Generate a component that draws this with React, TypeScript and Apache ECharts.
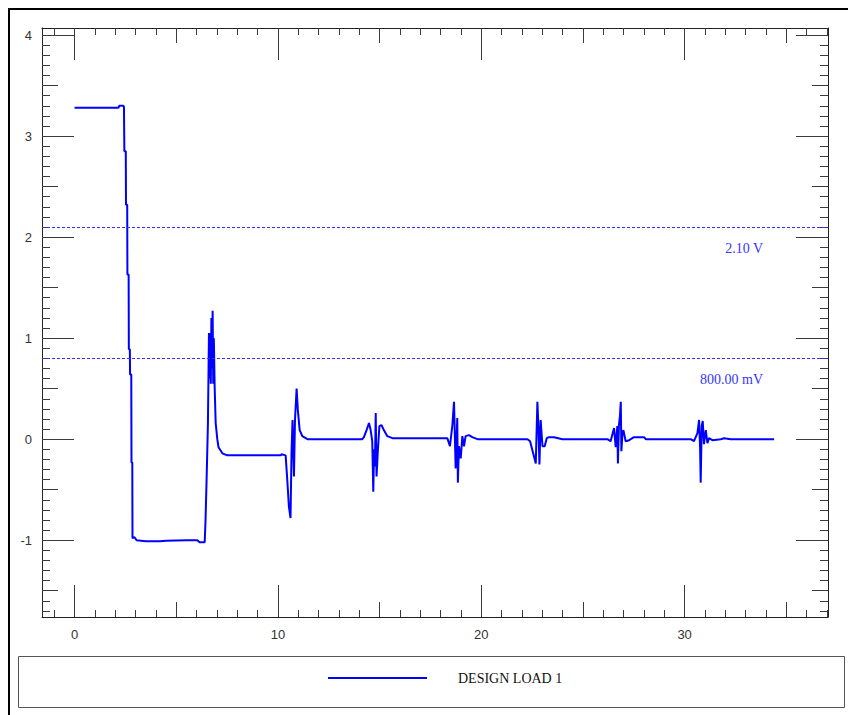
import React, { useEffect, useRef } from "react";
import * as echarts from "echarts";

// Signal trace (time, volts)
const signalX = [
  0, 2.16, 2.2, 2.4, 2.43, 2.45, 2.52, 2.53, 2.59, 2.6, 2.66, 2.67, 2.72, 2.73, 2.79, 2.8, 2.84, 2.85, 2.95, 3.05,
  3.5, 4.2, 4.5, 5.5, 6.04, 6.15, 6.4, 6.44, 6.49, 6.56, 6.61, 6.64, 6.67, 6.7, 6.73, 6.76, 6.79, 6.82, 6.85, 6.89,
  6.94, 7.02, 7.08, 7.27, 7.51, 10.15, 10.18, 10.38, 10.46, 10.54, 10.62, 10.67, 10.72, 10.79, 10.84, 10.92, 10.98,
  11.07, 11.2, 11.45, 14.15, 14.23, 14.36, 14.48, 14.56, 14.64, 14.69, 14.73, 14.77, 14.81, 14.85, 14.92, 14.99,
  15.09, 15.21, 15.38, 15.63, 18.33, 18.46, 18.58, 18.66, 18.74, 18.82, 18.85, 18.9, 18.99, 19.07, 19.15, 19.23,
  19.39, 19.56, 19.81, 22.27, 22.4, 22.59, 22.68, 22.76, 22.81, 22.86, 22.92, 23.01, 23.12, 23.22, 23.33, 23.58,
  23.99, 26.2, 26.36, 26.53, 26.61, 26.69, 26.72, 26.77, 26.82, 26.86, 26.89, 26.94, 26.99, 27.1, 27.27, 27.51,
  28.0, 28.1, 30.3, 30.46, 30.63, 30.71, 30.76, 30.79, 30.84, 30.89, 30.95, 31.04, 31.12, 31.2, 31.37, 31.78,
  31.94, 32.27, 34.4,
];
const signalY = [
  3.28, 3.28, 3.3, 3.3, 3.29, 2.85, 2.85, 2.32, 2.32, 1.63, 1.63, 0.89, 0.89, 0.64, 0.64, -0.23, -0.23, -0.98, -0.97, -1.0,
  -1.01, -1.01, -1.005, -1.0, -1.0, -1.02, -1.02, -0.81, -0.43, 0.16, 1.05, 0.6, 1.05, 0.55, 1.2, 0.7, 1.27, 0.55, 1.0, 0.52,
  0.16, 0.0, -0.08, -0.14, -0.16, -0.16, -0.15, -0.16, -0.4, -0.665, -0.78, -0.13, 0.19, -0.37, 0.19, 0.5, 0.29,
  0.09, 0.03, 0.0, 0.0, 0.02, 0.09, 0.16, 0.09, -0.02, -0.52, -0.1, -0.27, 0.26, -0.37, -0.1, 0.13,
  0.14, 0.09, 0.03, 0.01, 0.01, -0.07, 0.14, 0.37, -0.29, 0.21, -0.43, -0.07, -0.19, 0.03, -0.07, 0.03,
  0.04, 0.02, 0.0, 0.0, -0.02, -0.17, -0.24, 0.37, 0.13, -0.25, 0.19, -0.07, -0.07, 0.01, 0.02, 0.02,
  0.0, 0.0, -0.02, 0.11, -0.08, 0.13, -0.24, 0.14, 0.23, 0.37, -0.12, 0.05, 0.09, -0.02, -0.01, 0.02,
  0.02, 0.0, 0.0, -0.02, 0.06, 0.19, -0.09, -0.43, 0.13, 0.18, -0.05, 0.09, -0.04, 0.01, -0.01, 0.0,
  0.01, 0.0, 0.0,
];

const seriesName = "DESIGN LOAD 1";
const thresholdValues = [2.1, 0.8];
const thresholdLabels = ["2.10 V", "800.00 mV"];

const xMin = -1.6;
const xMax = 37.05;
const yMin = -1.76;
const yMax = 4.07;

const xLabelValues = [0, 10, 20, 30];
const xMajorTicks = [0, 10, 20, 30];
const xMediumTicks = [5, 15, 25, 35];
const xMinorTicks = [
  -1, 1, 2, 3, 4, 6, 7, 8, 9, 11, 12, 13, 14, 16, 17, 18, 19, 21, 22, 23, 24, 26, 27, 28, 29, 31, 32, 33, 34, 36, 37,
];

const yLabelValues = [-1, 0, 1, 2, 3, 4];
const yMajorTicks = [-1, 0, 1, 2, 3, 4];
const yMediumTicks = [-1.5, -0.5, 0.5, 1.5, 2.5, 3.5];
const yMinorTicks = [
  -1.7, -1.6, -1.4, -1.3, -1.2, -1.1, -0.9, -0.8, -0.7, -0.6, -0.4, -0.3, -0.2, -0.1,
  0.1, 0.2, 0.3, 0.4, 0.6, 0.7, 0.8, 0.9, 1.1, 1.2, 1.3, 1.4, 1.6, 1.7, 1.8, 1.9,
  2.1, 2.2, 2.3, 2.4, 2.6, 2.7, 2.8, 2.9, 3.1, 3.2, 3.3, 3.4, 3.6, 3.7, 3.8, 3.9, 4.0,
];

const TICK_COLOR = "#3a3a3a";
const LABEL_FONT = "'Liberation Sans', Arial, sans-serif";
const SERIF_FONT = "'Liberation Serif', 'Times New Roman', serif";

function makeAxis(
  dim: "x" | "y",
  position: string,
  ticks: number[],
  length: number,
  showLine: boolean,
  labels: number[] | null
) {
  return {
    type: "value",
    position,
    min: dim === "x" ? xMin : yMin,
    max: dim === "x" ? xMax : yMax,
    splitLine: { show: false },
    axisLine: { show: showLine, onZero: false, lineStyle: { color: "#222", width: 1 } },
    axisTick: {
      show: true,
      inside: true,
      length,
      customValues: ticks,
      lineStyle: { color: TICK_COLOR, width: 1 },
    },
    axisLabel: labels
      ? {
          show: true,
          customValues: labels,
          margin: dim === "x" ? 11 : 10,
          color: "#333",
          fontFamily: LABEL_FONT,
          fontSize: 13,
        }
      : { show: false },
  };
}

export default function App() {
  const ref = useRef<HTMLDivElement>(null);

  useEffect(() => {
    document.documentElement.style.overflow = "hidden";
    document.body.style.overflow = "hidden";
    document.body.style.margin = "0";
    if (!ref.current) return;
    const chart = echarts.init(ref.current, null, { renderer: "svg" });
    const data = signalX.map((x, i) => [x, signalY[i]]);

    const xAxes = [
      makeAxis("x", "bottom", xMajorTicks, 32, true, xLabelValues),
      makeAxis("x", "bottom", xMediumTicks, 15, false, null),
      makeAxis("x", "bottom", xMinorTicks, 7, false, null),
      makeAxis("x", "top", xMajorTicks, 32, true, null),
      makeAxis("x", "top", xMediumTicks, 15, false, null),
      makeAxis("x", "top", xMinorTicks, 7, false, null),
    ];
    const yAxes = [
      makeAxis("y", "left", yMajorTicks, 32, true, yLabelValues),
      makeAxis("y", "left", yMediumTicks, 16, false, null),
      makeAxis("y", "left", yMinorTicks, 8, false, null),
      makeAxis("y", "right", yMajorTicks, 32, true, null),
      makeAxis("y", "right", yMediumTicks, 16, false, null),
      makeAxis("y", "right", yMinorTicks, 8, false, null),
    ];

    chart.setOption({
      animation: false,
      backgroundColor: "#ffffff",
      grid: { left: 42, top: 28, right: 20, bottom: 98, containLabel: false },
      xAxis: xAxes,
      yAxis: yAxes,
      legend: {
        data: [seriesName],
        left: 328,
        top: 671,
        padding: 0,
        icon: "rect",
        itemWidth: 99,
        itemHeight: 2,
        itemStyle: { color: "#0000ff" },
        textStyle: {
          fontFamily: SERIF_FONT,
          fontSize: 14,
          color: "#111",
          padding: [0, 0, 0, 26],
        },
      },
      graphic: [
        {
          type: "line",
          shape: { x1: 8, y1: 9, x2: 848, y2: 9 },
          style: { stroke: "#000", lineWidth: 2 },
          silent: true,
        },
        {
          type: "line",
          shape: { x1: 9, y1: 8, x2: 9, y2: 715 },
          style: { stroke: "#000", lineWidth: 2 },
          silent: true,
        },
        {
          type: "rect",
          shape: { x: 18.5, y: 656.5, width: 826, height: 51 },
          style: { fill: "none", stroke: "#555", lineWidth: 1 },
          silent: true,
        },
      ],
      series: [
        {
          name: seriesName,
          type: "line",
          xAxisIndex: 0,
          yAxisIndex: 0,
          data,
          showSymbol: false,
          symbol: "none",
          lineStyle: { color: "#0000ff", width: 2 },
          itemStyle: { color: "#0000ff" },
          markLine: {
            silent: true,
            symbol: "none",
            lineStyle: { type: [3, 2], color: "#2f2fff", width: 1 },
            label: {
              show: true,
              position: "insideEndBottom",
              distance: [65, 14],
              color: "#3535ff",
              fontFamily: SERIF_FONT,
              fontSize: 14,
            },
            data: thresholdValues.map((v, i) => ({
              yAxis: v,
              label: { formatter: thresholdLabels[i] },
            })),
          },
        },
      ],
    });
    return () => chart.dispose();
  }, []);

  return <div ref={ref} style={{ width: 848, height: 715 }} />;
}
